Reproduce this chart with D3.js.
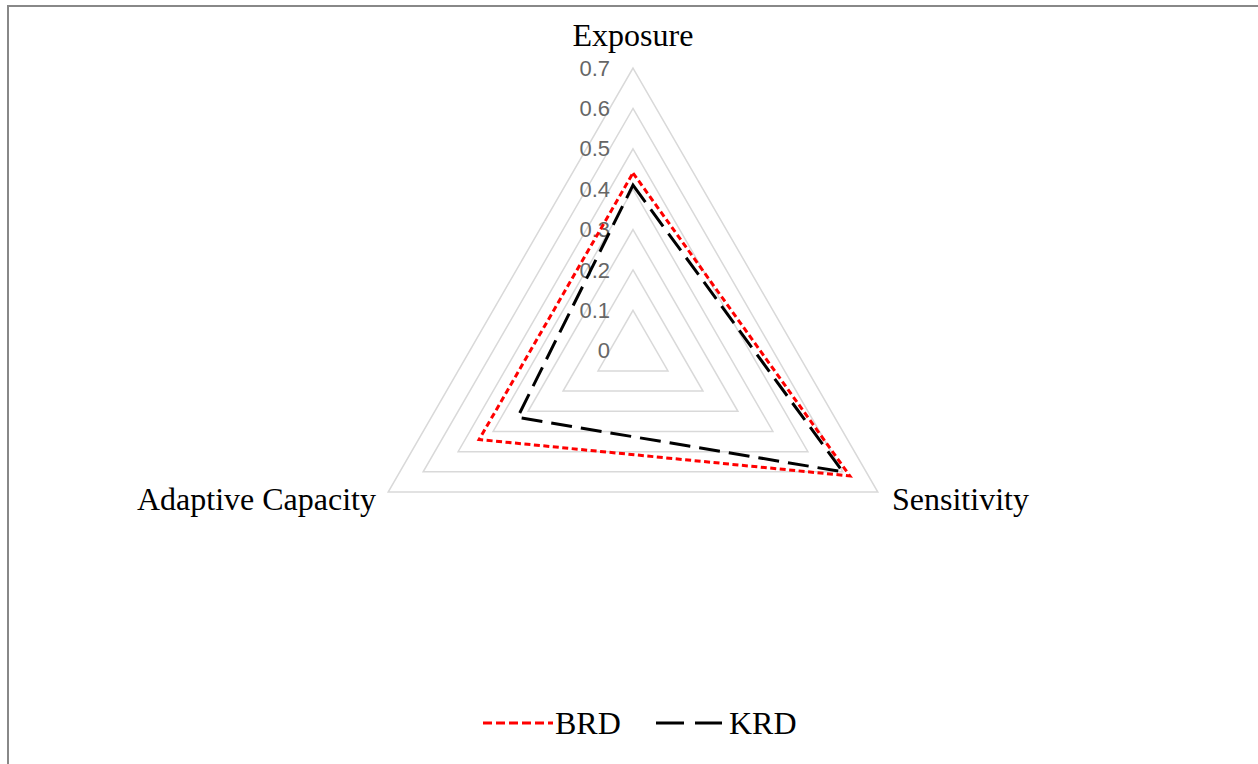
<!DOCTYPE html>
<html><head><meta charset="utf-8">
<script src="https://cdn.jsdelivr.net/npm/d3@7"></script>
<style>body{margin:0;background:#fff;}svg{display:block;}</style>
</head><body><svg id="c" width="1258" height="764"></svg>
<script>
const axes = ["Exposure", "Sensitivity", "Adaptive Capacity"];
const seriesNames = ["BRD", "KRD"];
const brd = [0.44, 0.62, 0.44];
const krd = [0.41, 0.60, 0.33];
const ticks = [0, 0.1, 0.2, 0.3, 0.4, 0.5, 0.6, 0.7];

const svg = d3.select("#c");
svg.append("rect").attr("x",8).attr("y",6).attr("width",1270).attr("height",800)
  .attr("fill","#fff").attr("stroke","#888").attr("stroke-width",2);

const cx = 633, cy = 350.7;
const r = d3.scaleLinear().domain([0,0.7]).range([0,282.7]);
const ang = i => -Math.PI/2 + i*2*Math.PI/3;
const pt = (v,i) => [cx + r(v)*Math.cos(ang(i)), cy + r(v)*Math.sin(ang(i))];
const line = d3.line().curve(d3.curveLinearClosed);

// grid
svg.append("g").selectAll("path").data(ticks.filter(t=>t>0)).join("path")
  .attr("d", t => line(axes.map((a,i)=>pt(t,i))))
  .attr("fill","none").attr("stroke","#d9d9d9").attr("stroke-width",1.5);

// tick labels
svg.append("g").selectAll("text").data(ticks).join("text")
  .attr("x", 610).attr("y", t => cy - r(t)).attr("dy","0.35em")
  .attr("text-anchor","end").attr("fill","#666")
  .style("font-family","'Liberation Sans', Arial, sans-serif").style("font-size","22px")
  .text(d => d3.format("")(d));

const series = [
  {name: seriesNames[0], vals: brd, color: "#ff0000", dash: "6,3.5"},
  {name: seriesNames[1], vals: krd, color: "#000000", dash: "21,9"}
];
svg.append("g").selectAll("path").data(series).join("path")
  .attr("d", s => line(s.vals.map((v,i)=>pt(v,i))))
  .attr("fill","none").attr("stroke", s=>s.color).attr("stroke-width",3)
  .attr("stroke-dasharray", s=>s.dash).attr("stroke-linejoin","miter");

// axis labels
const font = "'Liberation Serif', 'Times New Roman', serif";
const fs = "32px";
const addText = (x, y, anchor, t) => svg.append("text").attr("x",x).attr("y",y)
  .attr("text-anchor",anchor).attr("fill","#000")
  .style("font-family",font).style("font-size",fs).text(t);
addText(cx, 46, "middle", axes[0]);
addText(892, 510, "start", axes[1]);
addText(376, 510, "end", axes[2]);

// legend
const legendItems = [
  {s: series[0], x1: 483, x2: 553, tx: 555, dash: "9,4"},
  {s: series[1], x1: 656, x2: 722, tx: 729, dash: "28,11"}
];
legendItems.forEach(d => {
  svg.append("line").attr("x1",d.x1).attr("x2",d.x2).attr("y1",723).attr("y2",723)
    .attr("stroke",d.s.color).attr("stroke-width",3).attr("stroke-dasharray",d.dash);
  addText(d.tx, 734, "start", d.s.name);
});
</script></body></html>
